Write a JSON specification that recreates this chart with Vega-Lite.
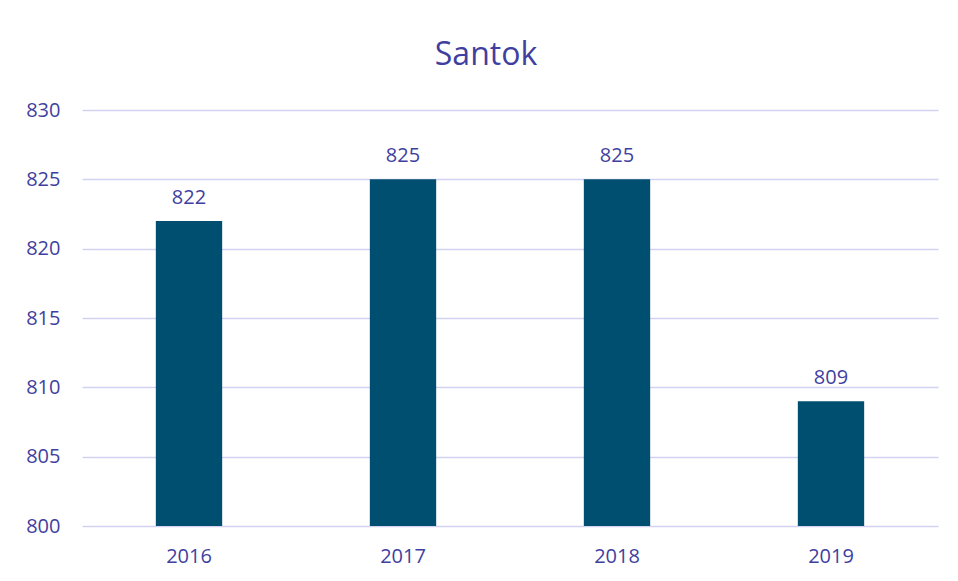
{
  "$schema": "https://vega.github.io/schema/vega-lite/v6.json",
  "width": 856,
  "height": 416,
  "autosize": "none",
  "padding": {"left": 82, "top": 110, "right": 20, "bottom": 55},
  "background": "white",
  "title": {
    "text": "Santok",
    "anchor": "middle",
    "fontSize": 32,
    "font": "Open Sans",
    "fontWeight": "normal",
    "color": "#3f3f9f",
    "offset": -4,
    "dx": -24,
    "baseline": "bottom"
  },
  "data": {
    "values": [
      {"year": "2016", "value": 822},
      {"year": "2017", "value": 825},
      {"year": "2018", "value": 825},
      {"year": "2019", "value": 809}
    ]
  },
  "config": {
    "view": {"stroke": null},
    "font": "Open Sans"
  },
  "encoding": {
    "x": {
      "field": "year",
      "type": "nominal",
      "scale": {"paddingInner": 0.69, "paddingOuter": 0.345},
      "axis": {
        "title": null,
        "labelAngle": 0,
        "labelFontSize": 20,
        "labelColor": "#3f3f9f",
        "labelPadding": 20,
        "domain": false,
        "ticks": false
      }
    },
    "y": {
      "field": "value",
      "type": "quantitative",
      "scale": {"domain": [800, 830], "zero": false},
      "axis": {
        "title": null,
        "values": [800, 805, 810, 815, 820, 825, 830],
        "labelFontSize": 20,
        "labelColor": "#3f3f9f",
        "labelPadding": 22,
        "domain": false,
        "ticks": false,
        "gridColor": "#d4d2f2",
        "gridWidth": 1.5
      }
    }
  },
  "layer": [
    {"mark": {"type": "bar", "color": "#004f71", "clip": true}},
    {
      "mark": {"type": "text", "baseline": "bottom", "dy": -13, "fontSize": 20, "color": "#3f3f9f"},
      "encoding": {"text": {"field": "value", "type": "quantitative"}}
    }
  ]
}
